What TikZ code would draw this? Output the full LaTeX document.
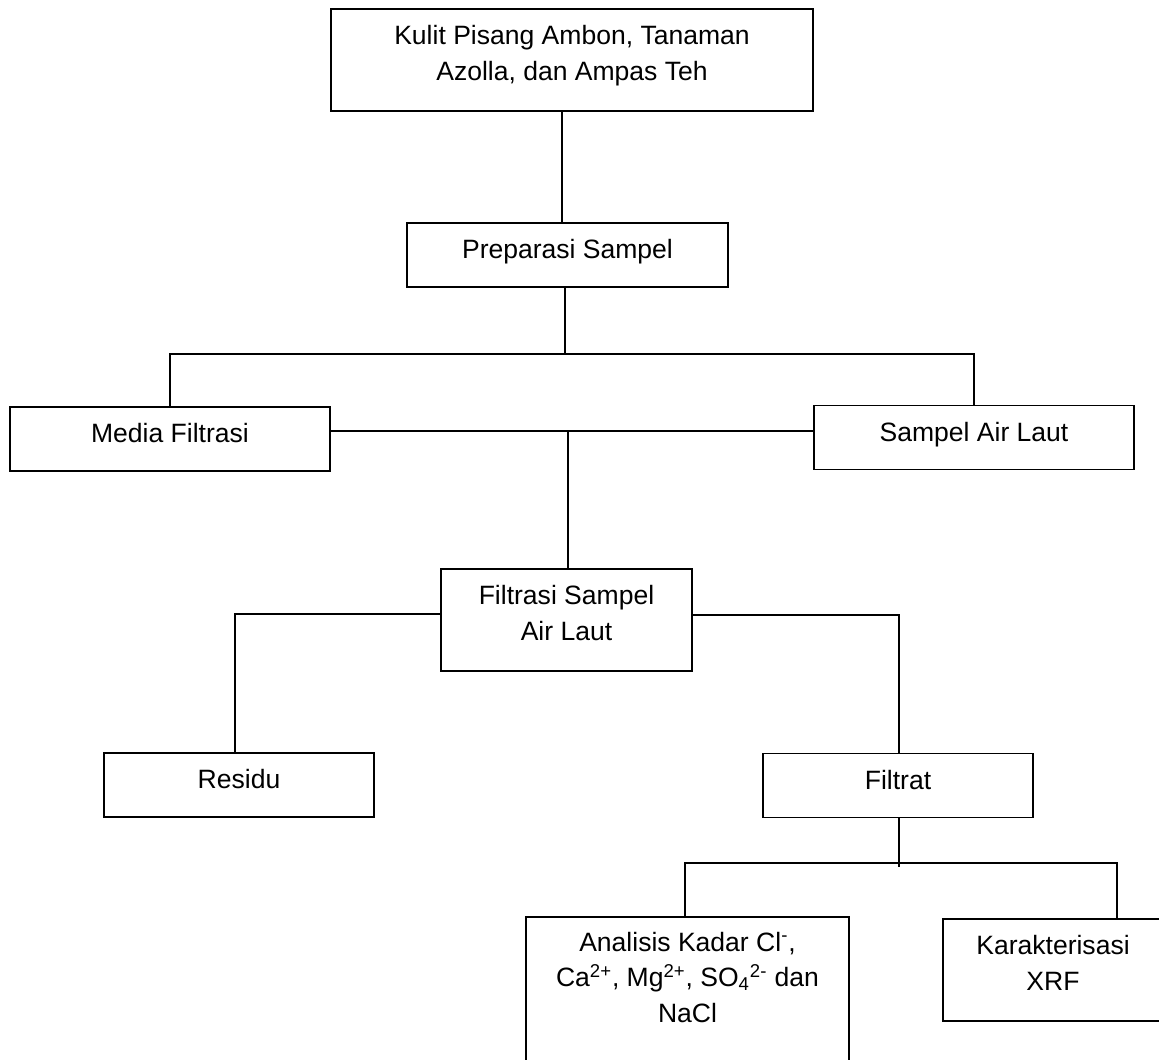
\documentclass[tikz,border=0pt]{standalone}
\usepackage{fontspec}
\setmainfont{Liberation Sans}
\tikzset{
  procbox/.style={draw, line width=1.1pt, inner sep=0pt, align=center,
    font=\fontsize{15.1pt}{20.4pt}\selectfont,
    text height=0.71cm, text depth=0.57cm},
  tallbox/.style={procbox, text height=1.42cm, text depth=0.62cm},
  link/.style={line width=1.1pt}
}
\begin{document}
\begin{tikzpicture}[x=0.02cm, y=-0.02cm]
    \useasboundingbox (0,0) rectangle (1159,1059);
    \clip (0,0) rectangle (1159,1059);

    % boxes
    \node[tallbox, minimum width=9.64cm] (kulit) at (572,60)
        {Kulit Pisang Ambon, Tanaman\\Azolla, dan Ampas Teh};
    \node[procbox, minimum width=6.42cm] (prep) at (567.5,255) {Preparasi Sampel};
    \node[procbox, minimum width=6.4cm] (media) at (170,439) {Media Filtrasi};
    \node[procbox, minimum width=6.4cm] (sampel) at (974,437.5) {Sampel Air Laut};
    \node[tallbox, minimum width=5.02cm] (filtrasi) at (566.5,620)
        {Filtrasi Sampel\\Air Laut};
    \node[procbox, minimum width=5.4cm] (residu) at (239,785) {Residu};
    \node[procbox, minimum width=5.4cm] (filtrat) at (898,785.5) {Filtrat};
    \node[procbox, minimum width=6.46cm, text height=2.11cm, text depth=2cm]
        (analisis) at (687.5,1020)
        {Analisis Kadar Cl\textsuperscript{-},\\
         Ca\textsuperscript{2+}, Mg\textsuperscript{2+}, SO\textsubscript{4}\textsuperscript{2-} dan\\
         NaCl};
    \node[tallbox, minimum width=4.4cm] (karakter) at (1053,970)
        {Karakterisasi\\XRF};

    % junctions
    \coordinate (bar1) at (565,354);
    \coordinate (mid) at (568,431);
    \coordinate (resTop) at (235,614);
    \coordinate (filTop) at (899,615);
    \coordinate (fEnd) at (899,867);
    \coordinate (bar3L) at (685,863);
    \coordinate (bar3R) at (1117,863);

    % connectors
    \draw[link] (kulit.south -| 562,0) -- (prep.north -| 562,0);
    \draw[link] (prep.south -| bar1) -- (bar1);
    \draw[link] (media.north) |- (bar1) -| (sampel.north);
    \draw[link] (media.east |- mid) -- (sampel.west |- mid);
    \draw[link] (mid) -- (mid |- filtrasi.north);
    \draw[link] (filtrasi.west |- resTop) -- (resTop) -- (resTop |- residu.north);
    \draw[link] (filtrasi.east |- filTop) -- (filTop) -- (filTop |- filtrat.north);
    \draw[link] (filtrat.south -| fEnd) -- (fEnd);
    \draw[link] (bar3L |- analisis.north) -- (bar3L) -- (bar3R) -- (bar3R |- karakter.north);
\end{tikzpicture}
\end{document}
